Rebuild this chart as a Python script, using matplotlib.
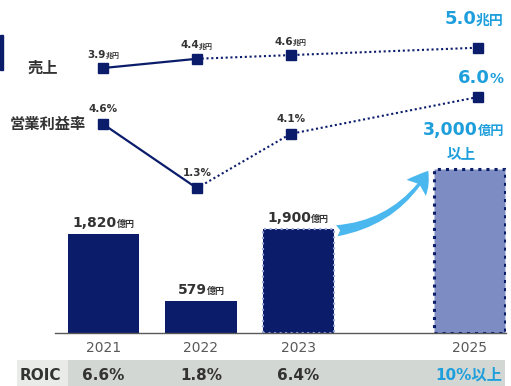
import matplotlib
matplotlib.use("Agg")
import matplotlib.pyplot as plt
import matplotlib.patches as mpatches
from matplotlib.transforms import blended_transform_factory

plt.rcParams["font.family"] = ["DejaVu Sans", "Noto Sans CJK JP"]

# ---- data ----
years = ["2021", "2022", "2023", "2025"]
line_years = [2021, 2022, 2023, 2025]
sales = [3.9, 4.4, 4.6, 5.0]            # 兆円
op_margin = [4.6, 1.3, 4.1, 6.0]        # %
op_profit = [1820, 579, 1900, 3000]     # 億円
roic = ["6.6%", "1.8%", "6.4%", "10%以上"]

sales_lbl = ["3.9", "4.4", "4.6", "5.0"]
margin_lbl = ["4.6", "1.3", "4.1", "6.0"]
profit_lbl = ["1,820", "579", "1,900", "3,000"]

NAVY = "#0b1c6b"
CYAN = "#1e9fdc"
ARROW = "#4ab7ef"
DARK = "#333333"
GREY = "#595959"

W, H = 511, 386
fig = plt.figure(figsize=(W / 100, H / 100), dpi=100)

pairs = []  # (number text, unit text) to be centred together


def num_unit(ax, x, y, num, unit, size, usize, color, dy, xshift=0):
    t = ax.annotate(num, (x, y), xytext=(xshift, dy), textcoords="offset points",
                    ha="center", va="bottom", fontsize=size, fontweight="bold",
                    color=color, annotation_clip=False)
    u = ax.annotate(unit, xy=(1, 0), xycoords=t,
                    xytext=(0, 0.23 * (size - usize)), textcoords="offset points",
                    ha="left", va="bottom", fontsize=usize, fontweight="bold",
                    color=color, annotation_clip=False)
    pairs.append((t, u, xshift, dy))
    return t


# ---- bars (operating profit) ----
pos = [0, 1, 2, 3.75]
bw = 0.73
ax_bar = fig.add_axes([55 / W, (H - 333) / H, (506 - 55) / W, 333 / H])
ax_bar.set_facecolor("none")
ax_bar.set_xlim(-0.497, 4.128)
ax_bar.set_ylim(0, 6110)
for s in ["top", "left", "right"]:
    ax_bar.spines[s].set_visible(False)
ax_bar.spines["bottom"].set_color(GREY)
ax_bar.spines["bottom"].set_linewidth(1)
ax_bar.set_yticks([])
ax_bar.set_xticks(pos)
ax_bar.set_xticklabels(years, fontsize=10, color=GREY)
ax_bar.tick_params(axis="x", length=0, pad=6)

ax_bar.bar(pos[:2], op_profit[:2], width=bw, color=NAVY, zorder=2)
ax_bar.bar(pos[2], op_profit[2], width=bw, color=NAVY, edgecolor="#9aa8d8",
           linestyle=":", linewidth=1.5, zorder=2)
ax_bar.bar(pos[3], op_profit[3], width=bw, color="#7d8dc3", edgecolor=NAVY,
           linestyle=":", linewidth=2.2, zorder=2)

for i in range(3):
    num_unit(ax_bar, pos[i], op_profit[i], profit_lbl[i], "億円", 10, 6.5, DARK, 3)
num_unit(ax_bar, pos[3], op_profit[3], profit_lbl[3], "億円", 12.5, 9.5, CYAN, 22, xshift=-4)
ax_bar.annotate("以上", (pos[3], op_profit[3]), xytext=(-6, 6), textcoords="offset points",
                ha="center", va="bottom", fontsize=10.5, fontweight="bold", color=CYAN)

# growth arrow from 2023 to 2025
arrow = mpatches.FancyArrowPatch(
    (pos[2] + bw / 2, op_profit[2] - 30), (pos[3] - bw / 2 - 0.04, op_profit[3] + 20),
    connectionstyle="arc3,rad=0.25",
    arrowstyle="fancy,head_width=1.8,head_length=1.5,tail_width=0.8",
    mutation_scale=10, color=ARROW, lw=0, zorder=3, clip_on=False)
ax_bar.add_patch(arrow)

# ---- lines (sales, operating margin) ----
ax_s = fig.add_axes([0, 0, 1, 1], facecolor="none")
ax_m = fig.add_axes([0, 0, 1, 1], facecolor="none")
for ax in (ax_s, ax_m):
    ax.set_axis_off()
    ax.set_xlim(2019.90, 2025.35)
ax_s.set_ylim(-13.3, 7.58)
ax_m.set_ylim(-8.9, 11.0)

for ax, vals in ((ax_s, sales), (ax_m, op_margin)):
    ax.plot(line_years[:2], vals[:2], color=NAVY, lw=1.6, zorder=2)
    ax.plot(line_years[1:], vals[1:], color=NAVY, lw=1.5, ls=(0, (1, 1.3)), zorder=2)
    ax.plot(line_years, vals, ls="none", marker="s", ms=7.2, color=NAVY, zorder=3)

for i in range(3):
    num_unit(ax_s, line_years[i], sales[i], sales_lbl[i], "兆円", 7.5, 5, DARK, 6)
    ax_m.annotate(margin_lbl[i] + "%", (line_years[i], op_margin[i]), xytext=(0, 7),
                  textcoords="offset points", ha="center", va="bottom",
                  fontsize=7.5, fontweight="bold", color=DARK)
num_unit(ax_s, line_years[3], sales[3], sales_lbl[3], "兆円", 13, 10, CYAN, 14, xshift=-3)
num_unit(ax_m, line_years[3], op_margin[3], margin_lbl[3], "%", 13, 10, CYAN, 7, xshift=2)

# series names on the left
fig.text(43 / W, 1 - 68 / H, "売上", ha="center", va="center",
         fontsize=11, fontweight="bold", color=DARK)
fig.text(48 / W, 1 - 124 / H, "営業利益率", ha="center", va="center",
         fontsize=11, fontweight="bold", color=DARK)
fig.add_artist(mpatches.Rectangle((0, 1 - 70 / H), 3 / W, 35 / H,
                                  transform=fig.transFigure, color=NAVY))

# ---- ROIC row ----
fig.add_artist(mpatches.Rectangle((17 / W, 0), (68 - 17) / W, 26 / H,
                                  transform=fig.transFigure, color="#e8ebe8", lw=0))
fig.add_artist(mpatches.Rectangle((68 / W, 0), (505 - 68) / W, 26 / H,
                                  transform=fig.transFigure, color="#d3d7d3", lw=0))
fig.text(40 / W, 1 - 375 / H, "ROIC", ha="center", va="center",
         fontsize=11, fontweight="bold", color=DARK)
row = blended_transform_factory(ax_bar.transData, fig.transFigure)
for i, r in enumerate(roic):
    c = CYAN if i == 3 else DARK
    fig.text(pos[i], 1 - 375 / H, r, transform=row, ha="center", va="center",
             fontsize=11, fontweight="bold", color=c)

# centre number + unit pairs as one label
fig.canvas.draw()
for t, u, xs, dy in pairs:
    w = u.get_window_extent().width * 72 / fig.dpi
    t.xyann = (xs - w / 2, dy)

fig.savefig("out.png", dpi=100)
plt.close(fig)
